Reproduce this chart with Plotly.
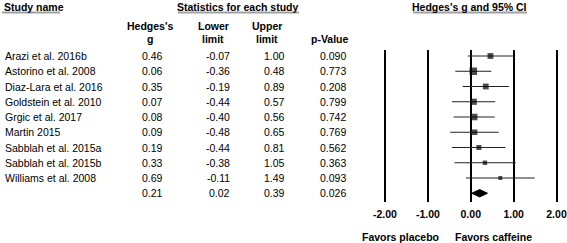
import plotly.graph_objects as go

studies = ["Arazi et al. 2016b", "Astorino et al. 2008", "Diaz-Lara et al. 2016",
           "Goldstein et al. 2010", "Grgic et al. 2017", "Martin 2015",
           "Sabblah et al. 2015a", "Sabblah et al. 2015b", "Williams et al. 2008"]
hedges_g = [0.46, 0.06, 0.35, 0.07, 0.08, 0.09, 0.19, 0.33, 0.69]
lower = [-0.07, -0.36, -0.19, -0.44, -0.40, -0.48, -0.44, -0.38, -0.11]
upper = [1.00, 0.48, 0.89, 0.57, 0.56, 0.65, 0.81, 1.05, 1.49]
p_values = ["0.090", "0.773", "0.208", "0.799", "0.742", "0.769", "0.562", "0.363", "0.093"]
summary_g = 0.21
summary_lower = 0.02
summary_upper = 0.39
summary_p = "0.026"
x_ticks = [-2, -1, 0, 1, 2]
x_tick_labels = ["-2.00", "-1.00", "0.00", "1.00", "2.00"]

W, H = 567, 243
FONT = "Liberation Sans, Arial, sans-serif"
FS = 10.5

ROW0_PX = 56.0
ROW_H = 15.25
TOP_PX, BOT_PX = 50, 202


def py(px):
    return (px - ROW0_PX) / ROW_H


def row_px(i):
    return ROW0_PX + ROW_H * i


def yp(px):
    return (BOT_PX - px) / (BOT_PX - TOP_PX)


def xp(px):
    return px / W


n = len(studies)
rows = list(range(n))
sum_row = n

fig = go.Figure()

# CI lines
lx, ly = [], []
for i in rows:
    lx += [lower[i], upper[i], None]
    ly += [i, i, None]
fig.add_trace(go.Scatter(x=lx, y=ly, mode="lines",
                         line=dict(color="#222222", width=1), hoverinfo="skip"))

# squares sized by precision
sizes = [6.3 / (u - l) for l, u in zip(lower, upper)]
fig.add_trace(go.Scatter(x=hedges_g, y=rows, mode="markers",
                         marker=dict(symbol="square", size=sizes, color="black",
                                     line=dict(width=0))))

# summary diamond
hh = 0.24
fig.add_trace(go.Scatter(
    x=[summary_lower, summary_g, summary_upper, summary_g, summary_lower],
    y=[sum_row, sum_row - hh, sum_row, sum_row + hh, sum_row],
    mode="lines", fill="toself", fillcolor="black",
    line=dict(color="black", width=1)))

ann = []


def add_text(text, xpx, ypx, anchor="left", bold=False):
    ann.append(dict(text=f"<b>{text}</b>" if bold else text, x=xp(xpx), xref="paper",
                    y=yp(ypx), yref="paper", xanchor=anchor, yanchor="middle",
                    showarrow=False, font=dict(family=FONT, size=FS, color="black")))


# headers
add_text("Study name", 2, 6.5, "left", True)
add_text("Statistics for each study", 238, 6.5, "center", True)
add_text("Hedges's g and 95% CI", 469, 6.5, "center", True)
add_text("Hedges's", 150, 26, "center", True)
add_text("g", 150, 39, "center", True)
add_text("Lower", 213, 26, "center", True)
add_text("limit", 213, 39, "center", True)
add_text("Upper", 267, 26, "center", True)
add_text("limit", 267, 39, "center", True)
add_text("p-Value", 330, 39, "center", True)

col_right = [165, 232, 287, 348]
for i in rows:
    y = row_px(i)
    add_text(studies[i], 3, y, "left")
    add_text(f"{hedges_g[i]:.2f}", col_right[0], y, "right")
    add_text(f"{lower[i]:.2f}", col_right[1], y, "right")
    add_text(f"{upper[i]:.2f}", col_right[2], y, "right")
    add_text(p_values[i], col_right[3], y, "right")
y = row_px(sum_row)
add_text(f"{summary_g:.2f}", col_right[0], y, "right")
add_text(f"{summary_lower:.2f}", col_right[1], y, "right")
add_text(f"{summary_upper:.2f}", col_right[2], y, "right")
add_text(summary_p, col_right[3], y, "right")

add_text("Favors placebo", 441, 237, "right", True)
add_text("Favors caffeine", 453, 237, "left", True)

shapes = []
for x0, x1 in [(2, 60), (178, 299), (413, 527)]:
    shapes.append(dict(type="line", xref="paper", yref="paper", x0=xp(x0), x1=xp(x1),
                       y0=yp(12.5), y1=yp(12.5), line=dict(color="#a0a0a0", width=2)))

# x-axis: -2 at 385 px, 2 at 556.5 px
px_per_unit = (556.5 - 385) / 4
dom0, dom1 = 372, 566
xr0 = -2 - (385 - dom0) / px_per_unit
xr1 = 2 + (dom1 - 556.5) / px_per_unit

fig.update_layout(
    width=W, height=H,
    margin=dict(l=0, r=0, t=TOP_PX, b=H - BOT_PX, pad=0, autoexpand=False),
    paper_bgcolor="white", plot_bgcolor="white",
    showlegend=False,
    annotations=ann, shapes=shapes,
    xaxis=dict(domain=[dom0 / W, dom1 / W], range=[xr0, xr1], automargin=False,
               tickmode="array", tickvals=x_ticks, ticktext=[f"<b>{t}</b>" for t in x_tick_labels],
               showgrid=True, gridcolor="black", gridwidth=1.5,
               zeroline=True, zerolinecolor="black", zerolinewidth=1.5,
               showline=False, ticks="", ticklabelstandoff=4,
               tickfont=dict(family=FONT, size=FS, color="black"), fixedrange=True),
    yaxis=dict(range=[py(BOT_PX), py(TOP_PX)], showgrid=False, zeroline=False, automargin=False,
               showticklabels=False, showline=False, fixedrange=True),
)

fig.write_html("out.html", config={"displayModeBar": False},
               post_script="document.body.style.margin='0';document.body.style.padding='0';")
